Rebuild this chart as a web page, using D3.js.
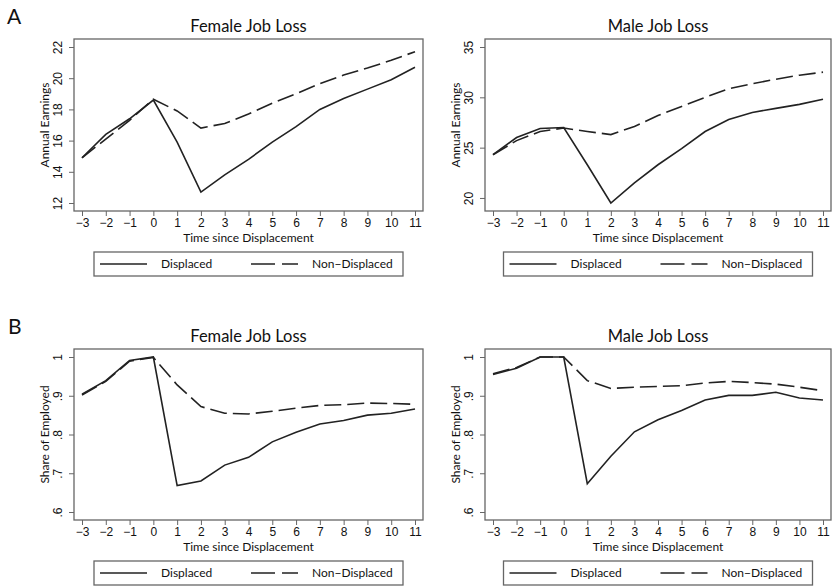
<!DOCTYPE html>
<html>
<head>
<meta charset="utf-8">
<script src="https://cdn.jsdelivr.net/npm/d3@7"></script>
<style>
  body { margin: 0; background: #fff; }
  svg { display: block; font-family: Lato, "Open Sans", sans-serif; }
  .axis path, .axis line { stroke: #666; stroke-width: 1; }
  .axis text { fill: #111; font-size: 12px; }
</style>
</head>
<body>
<div id="chart"></div>
<script>
// Time since displacement
const years = [-3, -2, -1, 0, 1, 2, 3, 4, 5, 6, 7, 8, 9, 10, 11];

// Panel A: annual earnings
const femaleEarnDisp = [14.9, 16.4, 17.4, 18.6, 15.9, 12.7, 13.8, 14.8, 15.9, 16.9, 18.0, 18.7, 19.3, 19.9, 20.7];
const femaleEarnNon  = [14.9, 16.1, 17.3, 18.65, 17.9, 16.8, 17.1, 17.7, 18.4, 19.0, 19.65, 20.2, 20.65, 21.15, 21.7];
const maleEarnDisp   = [24.3, 26.0, 26.9, 27.0, 23.3, 19.5, 21.5, 23.3, 24.9, 26.6, 27.8, 28.5, 28.9, 29.3, 29.8];
const maleEarnNon    = [24.3, 25.7, 26.6, 26.95, 26.6, 26.3, 27.1, 28.2, 29.1, 30.0, 30.85, 31.35, 31.8, 32.2, 32.5];

// Panel B: share of employed
const femaleEmpDisp = [.904, .939, .991, 1.0, .668, .680, .721, .741, .781, .806, .827, .836, .850, .855, .866];
const femaleEmpNon  = [.902, .937, .989, .999, .928, .872, .855, .853, .860, .868, .875, .877, .881, .880, .878];
const maleEmpDisp   = [.955, .971, 1.0, 1.0, .673, .744, .807, .838, .862, .889, .901, .901, .909, .894, .889];
const maleEmpNon    = [.957, .973, 1.0, 1.0, .939, .919, .922, .924, .926, .933, .937, .934, .930, .922, .913];

// Tick values and labels
const femaleEarnTicks = [12, 14, 16, 18, 20, 22];
const maleEarnTicks = [20, 25, 30, 35];
const empTicks = [.6, .7, .8, .9, 1];
const empTickLabels = [".6", ".7", ".8", ".9", "1"];

const seriesNames = ["Displaced", "Non\u2212Displaced"];

const width = 832, height = 587;
const pad = 8;

const svg = d3.select("#chart").append("svg")
    .attr("width", width)
    .attr("height", height);

// Panel letters
svg.append("text").attr("x", 7).attr("y", 24)
    .attr("font-size", 21).attr("fill", "#111").text("A");
svg.append("text").attr("x", 8).attr("y", 334)
    .attr("font-size", 21).attr("fill", "#111").text("B");

const panels = [
    { title: "Female Job Loss", yTitle: "Annual Earnings", disp: femaleEarnDisp, non: femaleEarnNon,
      ticks: femaleEarnTicks, labels: femaleEarnTicks.map(String), box: { l: 74, r: 423, t: 39, b: 211 } },
    { title: "Male Job Loss", yTitle: "Annual Earnings", disp: maleEarnDisp, non: maleEarnNon,
      ticks: maleEarnTicks, labels: maleEarnTicks.map(String), box: { l: 485, r: 831, t: 39, b: 211 } },
    { title: "Female Job Loss", yTitle: "Share of Employed", disp: femaleEmpDisp, non: femaleEmpNon,
      ticks: empTicks, labels: empTickLabels, box: { l: 74, r: 423, t: 349, b: 520 } },
    { title: "Male Job Loss", yTitle: "Share of Employed", disp: maleEmpDisp, non: maleEmpNon,
      ticks: empTicks, labels: empTickLabels, box: { l: 485, r: 831, t: 349, b: 520 } }
];

const dash = "17,6";

panels.forEach(p => {
    const b = p.box;
    const g = svg.append("g");

    const x = d3.scaleLinear()
        .domain(d3.extent(years))
        .range([b.l + pad, b.r - pad]);

    // Stata style: range covers both data and ticks
    const allVals = p.disp.concat(p.non, p.ticks);
    const y = d3.scaleLinear()
        .domain(d3.extent(allVals))
        .range([b.b - pad, b.t + pad]);

    // Plot region border
    g.append("rect")
        .attr("x", b.l).attr("y", b.t)
        .attr("width", b.r - b.l).attr("height", b.b - b.t)
        .attr("fill", "none").attr("stroke", "#666").attr("stroke-width", 1.3);

    // X axis
    const xAxis = g.append("g")
        .attr("class", "axis")
        .attr("transform", `translate(0,${b.b})`)
        .call(d3.axisBottom(x).tickValues(years).tickSize(5).tickSizeOuter(0)
            .tickFormat(d => d < 0 ? "\u2212" + Math.abs(d) : d));
    xAxis.select(".domain").remove();
    xAxis.selectAll("text").attr("y", 12).attr("dy", "0.35em");

    // Y axis with rotated labels
    const yAxis = g.append("g")
        .attr("class", "axis")
        .attr("transform", `translate(${b.l},0)`)
        .call(d3.axisLeft(y).tickValues(p.ticks).tickSize(5).tickSizeOuter(0)
            .tickFormat((d, i) => p.labels[i]));
    yAxis.select(".domain").remove();
    yAxis.selectAll("text")
        .attr("x", null).attr("dy", null)
        .attr("text-anchor", "middle")
        .attr("transform", "translate(-12,0) rotate(-90)")
        .attr("y", 0);

    // Titles
    g.append("text")
        .attr("x", (b.l + b.r) / 2).attr("y", b.t - 7)
        .attr("text-anchor", "middle").attr("font-size", 16.5).attr("fill", "#111")
        .text(p.title);

    g.append("text")
        .attr("x", (b.l + b.r) / 2).attr("y", b.b + 31)
        .attr("text-anchor", "middle").attr("font-size", 12).attr("fill", "#111")
        .text("Time since Displacement");

    g.append("text")
        .attr("transform", `translate(${b.l - 25},${(b.t + b.b) / 2}) rotate(-90)`)
        .attr("text-anchor", "middle").attr("font-size", 12).attr("fill", "#111")
        .text(p.yTitle);

    // Lines
    const line = d3.line()
        .x((d, i) => x(years[i]))
        .y(d => y(d));

    g.append("path").datum(p.non)
        .attr("d", line)
        .attr("fill", "none").attr("stroke", "#222").attr("stroke-width", 1.6)
        .attr("stroke-dasharray", dash);

    g.append("path").datum(p.disp)
        .attr("d", line)
        .attr("fill", "none").attr("stroke", "#222").attr("stroke-width", 1.6);

    // Legend
    const lw = 309, lh = 24;
    const lx = (b.l + b.r) / 2 - lw / 2, ly = b.b + 41;
    const lg = g.append("g").attr("transform", `translate(${lx},${ly})`);
    lg.append("rect")
        .attr("width", lw).attr("height", lh)
        .attr("fill", "none").attr("stroke", "#666").attr("stroke-width", 1.3);

    lg.append("line")
        .attr("x1", 6).attr("x2", 53).attr("y1", lh / 2).attr("y2", lh / 2)
        .attr("stroke", "#222").attr("stroke-width", 1.5);
    lg.append("text")
        .attr("x", 67).attr("y", lh / 2).attr("dy", "0.35em")
        .attr("font-size", 12).attr("fill", "#111")
        .text(seriesNames[0]);

    lg.append("line")
        .attr("x1", 157).attr("x2", 204).attr("y1", lh / 2).attr("y2", lh / 2)
        .attr("stroke", "#222").attr("stroke-width", 1.5)
        .attr("stroke-dasharray", "24,7");
    lg.append("text")
        .attr("x", 218).attr("y", lh / 2).attr("dy", "0.35em")
        .attr("font-size", 12).attr("fill", "#111")
        .text(seriesNames[1]);
});
</script>
</body>
</html>
